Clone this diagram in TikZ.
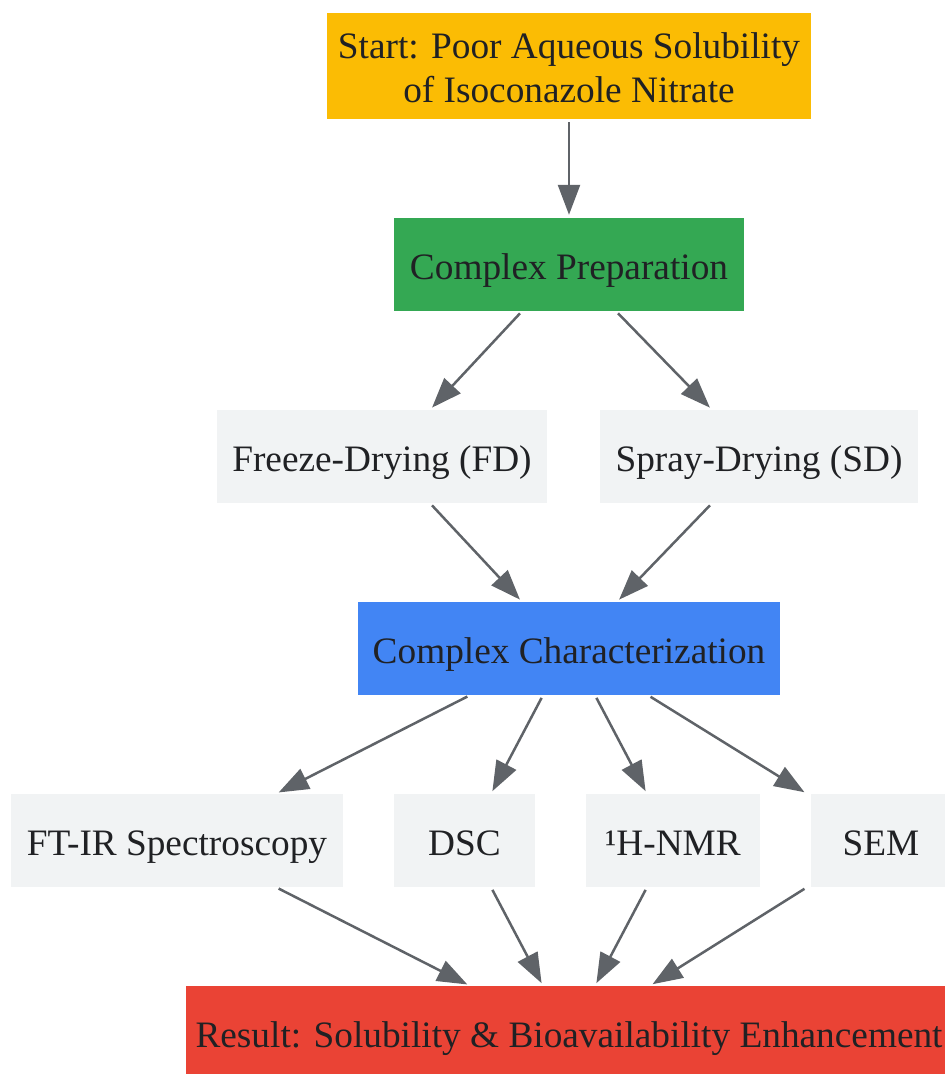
\documentclass[tikz,border=0pt]{standalone}
\usepackage{fontspec}
\setmainfont{Liberation Serif}
\usepackage{tikz}
\usetikzlibrary{arrows.meta,positioning}
\definecolor{startyellow}{HTML}{FBBC04}
\definecolor{prepgreen}{HTML}{34A853}
\definecolor{charblue}{HTML}{4285F4}
\definecolor{resultred}{HTML}{EA4335}
\definecolor{boxgrey}{HTML}{F1F3F4}
\definecolor{edgegrey}{HTML}{5F6368}
\definecolor{textdark}{HTML}{202124}
\tikzset{>={Triangle[length=30pt,width=22pt]}}
\tikzset{
  box/.style={rectangle,inner sep=0pt,text=textdark,align=center,
    font=\fontsize{37.3}{44}\selectfont,minimum height=93pt,
    text height=37pt,text depth=8pt},
  flow/.style={->,line width=2.5pt,draw=edgegrey,shorten <=3pt,shorten >=3pt}
}

\begin{document}
\begin{tikzpicture}[x=1pt,y=-1pt]
    \useasboundingbox (0,0) rectangle (945,1074);

    \node[box,fill=startyellow,minimum width=484pt,minimum height=106pt,
      text height=73pt,text depth=0pt] (start) at (569,66) {Start: Poor Aqueous Solubility\\of Isoconazole Nitrate};
    \node[box,fill=prepgreen,minimum width=350pt] (prep) at (569,264.5) {Complex Preparation};
    \node[box,fill=boxgrey,minimum width=330pt] (fd) at (382,456.5) {Freeze-Drying (FD)};
    \node[box,fill=boxgrey,minimum width=318pt] (sd) at (759,456.5) {Spray-Drying (SD)};
    \node[box,fill=charblue,minimum width=422pt] (char) at (569,648.5) {Complex Characterization};
    \node[box,fill=boxgrey,minimum width=332pt] (ftir) at (177,840.5) {FT-IR Spectroscopy};
    \node[box,fill=boxgrey,minimum width=141pt] (dsc) at (464.5,840.5) {DSC};
    \node[box,fill=boxgrey,minimum width=174pt] (nmr) at (673,840.5) {¹H-NMR};
    \node[box,fill=boxgrey,minimum width=140pt] (sem) at (881,840.5) {SEM};
    \node[box,fill=resultred,minimum width=766pt] (res) at (569,1032.5) {Result: Solubility \& Bioavailability Enhancement};

    \draw[flow] (start.south) -- (prep.north);
    \draw[flow] ([xshift=-47pt]prep.south) -- ([xshift=48pt]fd.north);
    \draw[flow] ([xshift=47pt]prep.south) -- ([xshift=-47pt]sd.north);
    \draw[flow] ([xshift=48pt]fd.south) -- ([xshift=-47pt]char.north);
    \draw[flow] ([xshift=-47pt]sd.south) -- ([xshift=48pt]char.north);
    \draw[flow] ([xshift=-99pt]char.south) -- ([xshift=99pt]ftir.north);
    \draw[flow] ([xshift=-26pt]char.south) -- ([xshift=26.5pt]dsc.north);
    \draw[flow] ([xshift=26pt]char.south) -- ([xshift=-26pt]nmr.north);
    \draw[flow] ([xshift=79pt]char.south) -- ([xshift=-74pt]sem.north);
    \draw[flow] ([xshift=99pt]ftir.south) -- ([xshift=-99pt]res.north);
    \draw[flow] ([xshift=26.5pt]dsc.south) -- ([xshift=-26pt]res.north);
    \draw[flow] ([xshift=-26pt]nmr.south) -- ([xshift=26pt]res.north);
    \draw[flow] ([xshift=-74pt]sem.south) -- ([xshift=81pt]res.north);
\end{tikzpicture}
\end{document}
